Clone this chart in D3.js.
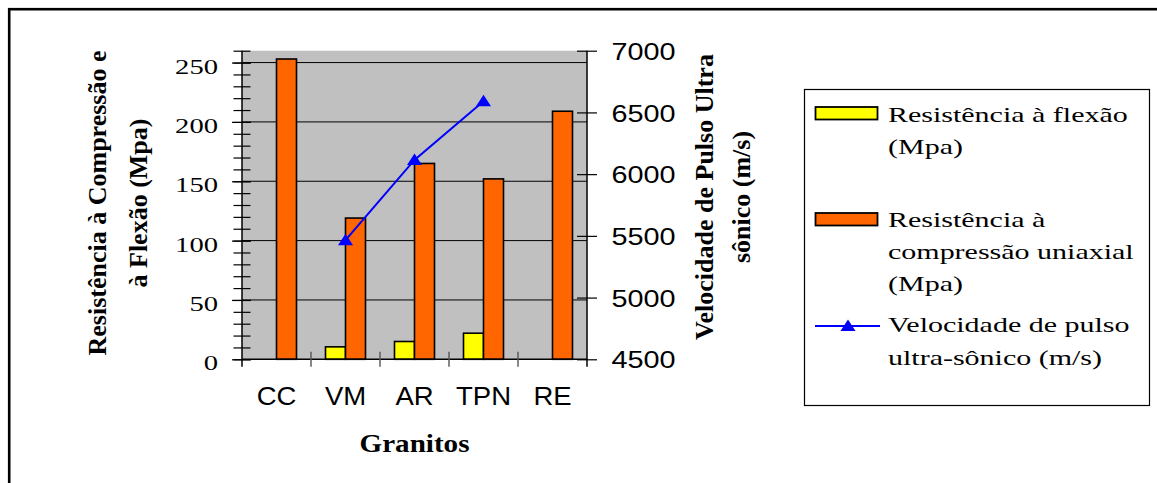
<!DOCTYPE html>
<html>
<head>
<meta charset="utf-8">
<script src="https://cdn.jsdelivr.net/npm/d3@7"></script>
<style>
  html, body { margin: 0; padding: 0; background: #fff; }
  svg { display: block; }
  .serif { font-family: "Liberation Serif", "Times New Roman", serif; }
  .sans { font-family: "Liberation Sans", Arial, sans-serif; }
</style>
</head>
<body>
<svg id="chart" width="1157" height="483"></svg>
<script>
// Granite samples and measured properties
const granitos = ["CC", "VM", "AR", "TPN", "RE"];
const resistenciaFlexao = [null, 10.5, 15, 22, null];          // MPa
const resistenciaCompressao = [253, 119, 165, 152, 209];        // MPa
const velocidadePulso = [null, 5465, 6115, 6590, null];         // m/s

const leftTicks = [0, 50, 100, 150, 200, 250];
const rightTicks = [4500, 5000, 5500, 6000, 6500, 7000];

const leftTitle = ["Resistência à Compressão e", "à Flexão (Mpa)"];
const rightTitle = ["Velocidade de Pulso Ultra", "sônico (m/s)"];
const xTitle = "Granitos";

const legendLabels = [
  ["Resistência à flexão", "(Mpa)"],
  ["Resistência à", "compressão uniaxial", "(Mpa)"],
  ["Velocidade de pulso", "ultra-sônico (m/s)"]
];

const colors = { flex: "#ffff00", comp: "#ff6600", line: "#0000ff", plot: "#c0c0c0" };

const svg = d3.select("#chart");

// outer frame (continues past the right and bottom edges)
svg.append("rect")
  .attr("x", 9.2).attr("y", 9.2).attr("width", 1200).attr("height", 600)
  .attr("fill", "none").attr("stroke", "#000").attr("stroke-width", 2.6);

const plot = { left: 242, right: 587, top: 50.7, bottom: 359.3 };

const x = d3.scaleBand().domain(granitos).range([plot.left, plot.right]).padding(0);
const xSub = d3.scaleBand().domain(["flex", "comp"]).range([0, x.bandwidth()])
  .paddingInner(0).paddingOuter(0.725);
const yLeft = d3.scaleLinear().domain([0, 260]).range([plot.bottom, plot.top]);
const yRight = d3.scaleLinear().domain([4500, 7000]).range([plot.bottom, plot.top]);

// plot background
svg.append("rect")
  .attr("x", plot.left).attr("y", plot.top)
  .attr("width", plot.right - plot.left).attr("height", plot.bottom - plot.top)
  .attr("fill", colors.plot);

// horizontal gridlines
svg.append("g").selectAll("line")
  .data(leftTicks.filter(d => d > 0))
  .join("line")
  .attr("x1", plot.left).attr("x2", plot.right)
  .attr("y1", d => yLeft(d)).attr("y2", d => yLeft(d))
  .attr("stroke", "#000").attr("stroke-width", 1);

// bars
const barG = svg.append("g");
const barData = [];
granitos.forEach((g, i) => {
  if (resistenciaFlexao[i] != null) barData.push({ g, key: "flex", v: resistenciaFlexao[i] });
  if (resistenciaCompressao[i] != null) barData.push({ g, key: "comp", v: resistenciaCompressao[i] });
});
barG.selectAll("rect")
  .data(barData)
  .join("rect")
  .attr("x", d => x(d.g) + xSub(d.key))
  .attr("width", xSub.bandwidth())
  .attr("y", d => yLeft(d.v))
  .attr("height", d => yLeft(0) - yLeft(d.v))
  .attr("fill", d => colors[d.key])
  .attr("stroke", "#000").attr("stroke-width", 1.6);

// left axis: minor ticks every 10, major every 50
const minorVals = d3.range(0, 261, 10);
const leftMinor = svg.append("g")
  .attr("transform", `translate(${plot.left},0)`)
  .call(d3.axisLeft(yLeft).tickValues(minorVals).tickFormat("").tickSizeOuter(0));
leftMinor.select(".domain").remove();
leftMinor.selectAll(".tick line").attr("x1", -8.5).attr("x2", 8.5).attr("stroke", "#000").attr("stroke-width", 1.2);

const leftAxis = svg.append("g")
  .attr("transform", `translate(${plot.left},0)`)
  .call(d3.axisLeft(yLeft).tickValues(leftTicks).tickFormat(d3.format("d")).tickSizeOuter(0));
leftAxis.select(".domain").remove();
leftAxis.selectAll(".tick line").attr("x1", -10).attr("x2", 9).attr("stroke", "#000").attr("stroke-width", 1.2);
leftAxis.selectAll(".tick text")
  .attr("class", "serif")
  .attr("x", 0).attr("dy", 0)
  .attr("transform", "translate(-24,10.5) scale(1.3,1)")
  .attr("text-anchor", "end")
  .attr("font-size", 22).attr("fill", "#000");

// right axis
const rightAxis = svg.append("g")
  .attr("transform", `translate(${plot.right},0)`)
  .call(d3.axisRight(yRight).tickValues(rightTicks).tickFormat(d3.format("d")).tickSizeOuter(0));
rightAxis.select(".domain").remove();
rightAxis.selectAll(".tick line").attr("x1", -10).attr("x2", 10).attr("stroke", "#000").attr("stroke-width", 1.2);
rightAxis.selectAll(".tick text")
  .attr("class", "sans")
  .attr("x", 0).attr("dy", 0)
  .attr("transform", "translate(24.5,8.6) scale(1.2,1)")
  .attr("text-anchor", "start")
  .attr("font-size", 24).attr("fill", "#000");

// axis lines
const axisLines = svg.append("g").attr("stroke", "#000").attr("stroke-width", 1.5);
axisLines.append("line").attr("x1", plot.left).attr("x2", plot.left).attr("y1", plot.top).attr("y2", plot.bottom + 7.5);
axisLines.append("line").attr("x1", plot.right).attr("x2", plot.right).attr("y1", plot.top).attr("y2", plot.bottom + 7.5);
axisLines.append("line").attr("x1", plot.left).attr("x2", plot.right).attr("y1", plot.bottom).attr("y2", plot.bottom);

// category axis: crossing ticks on band boundaries, labels centred
const bounds = granitos.map(g => x(g)).slice(1);
svg.append("g").selectAll("line")
  .data(bounds)
  .join("line")
  .attr("x1", d => d).attr("x2", d => d)
  .attr("y1", plot.bottom - 7.5).attr("y2", plot.bottom + 7.5)
  .attr("stroke", "#555").attr("stroke-width", 1.4);

svg.append("g").selectAll("text")
  .data(granitos)
  .join("text")
  .attr("class", "sans")
  .attr("font-size", 25)
  .attr("text-anchor", "middle")
  .attr("transform", d => `translate(${x(d) + x.bandwidth() / 2},405) scale(1.1,1)`)
  .text(d => d);

// ultrasonic pulse velocity line
const linePts = granitos.map((g, i) => ({ g, v: velocidadePulso[i] })).filter(d => d.v != null);
const line = d3.line().x(d => x(d.g) + x.bandwidth() / 2).y(d => yRight(d.v));
svg.append("path")
  .datum(linePts)
  .attr("d", line)
  .attr("fill", "none").attr("stroke", colors.line).attr("stroke-width", 2);

const triangle = "M0,-6.5L7.5,5L-7.5,5Z";
svg.append("g").selectAll("path")
  .data(linePts)
  .join("path")
  .attr("d", triangle)
  .attr("transform", d => `translate(${x(d.g) + x.bandwidth() / 2},${yRight(d.v)})`)
  .attr("fill", colors.line);

// axis titles
const leftT = svg.append("text")
  .attr("class", "serif").attr("font-weight", "bold").attr("font-size", 26)
  .attr("text-anchor", "middle")
  .attr("transform", "translate(0,203) rotate(-90)");
leftT.append("tspan").attr("x", 0).attr("y", 105.5).text(leftTitle[0]);
leftT.append("tspan").attr("x", 0).attr("y", 147).text(leftTitle[1]);

const rightT = svg.append("text")
  .attr("class", "serif").attr("font-weight", "bold").attr("font-size", 26)
  .attr("text-anchor", "middle")
  .attr("transform", "translate(0,197) rotate(-90)");
rightT.append("tspan").attr("x", 0).attr("y", 713).text(rightTitle[0]);
rightT.append("tspan").attr("x", 0).attr("y", 750).text(rightTitle[1]);

svg.append("text")
  .attr("class", "serif").attr("font-weight", "bold").attr("font-size", 26)
  .attr("text-anchor", "middle")
  .attr("transform", `translate(${(plot.left + plot.right) / 2},452) scale(1.12,1)`)
  .text(xTitle);

// legend
const legend = svg.append("g");
legend.append("rect")
  .attr("x", 804.5).attr("y", 89.5).attr("width", 345).attr("height", 316)
  .attr("fill", "#fff").attr("stroke", "#000").attr("stroke-width", 1.2);

const legendRows = [
  { type: "bar", color: colors.flex, swatchY: 113, baselines: [121.7, 154] },
  { type: "bar", color: colors.comp, swatchY: 219, baselines: [226.7, 259, 290.5] },
  { type: "line", color: colors.line, swatchY: 326, baselines: [331.7, 365] }
];
legendRows.forEach((row, i) => {
  if (row.type === "bar") {
    legend.append("rect")
      .attr("x", 815.5).attr("y", row.swatchY - 6).attr("width", 62).attr("height", 12.5)
      .attr("fill", row.color).attr("stroke", "#000").attr("stroke-width", 1.8);
  } else {
    legend.append("line")
      .attr("x1", 815).attr("x2", 880).attr("y1", row.swatchY).attr("y2", row.swatchY)
      .attr("stroke", row.color).attr("stroke-width", 2);
    legend.append("path")
      .attr("d", triangle)
      .attr("transform", `translate(848,${row.swatchY})`)
      .attr("fill", row.color);
  }
  legendLabels[i].forEach((txt, j) => {
    legend.append("text")
      .attr("class", "serif").attr("font-size", 20)
      .attr("transform", `translate(888,${row.baselines[j]}) scale(1.5,1)`)
      .text(txt);
  });
});
</script>
</body>
</html>
